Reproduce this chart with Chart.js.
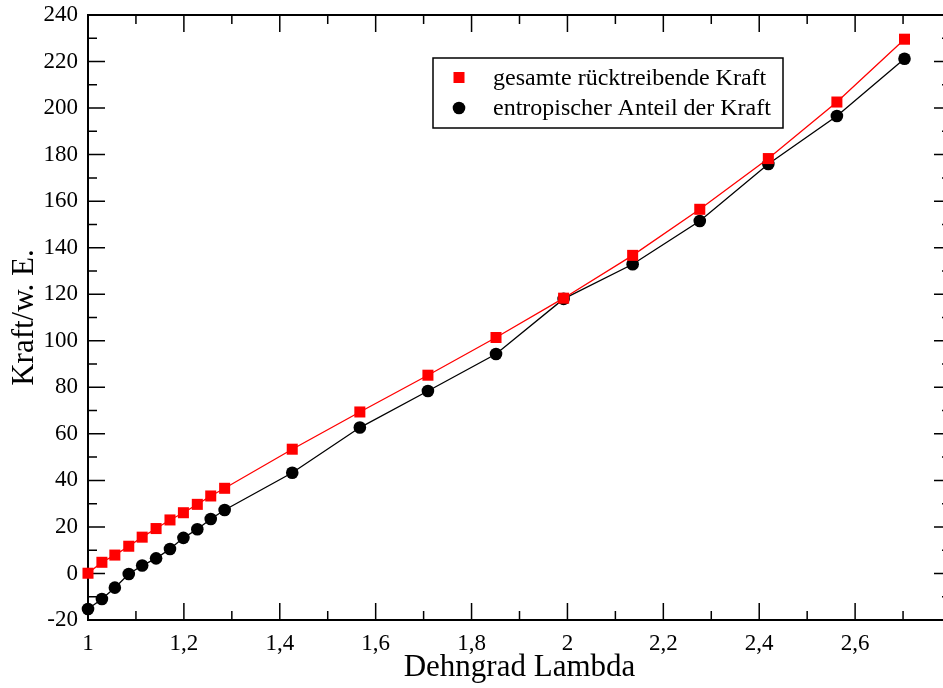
<!DOCTYPE html>
<html>
<head>
<meta charset="utf-8">
<script src="https://cdn.jsdelivr.net/npm/chart.js@4"></script>
<style>
  html, body { margin: 0; padding: 0; overflow: hidden; background: #fff; }
  #wrap { width: 960px; height: 688px; position: relative; }
</style>
</head>
<body>
<div id="wrap"><canvas id="kraftChart"></canvas></div>
<script>
// Dehngrad (Lambda) und Kraftwerte
const lambda     = [1.0, 1.029, 1.056, 1.085, 1.113, 1.142, 1.171, 1.199, 1.228, 1.256, 1.285,
                    1.426, 1.567, 1.709, 1.851, 1.992, 2.136, 2.276, 2.419, 2.562, 2.703];
const gesamt     = [0.1, 4.8, 7.9, 11.7, 15.6, 19.3, 23.0, 26.1, 29.7, 33.3, 36.6,
                    53.4, 69.4, 85.2, 101.4, 118.3, 136.7, 156.5, 178.3, 202.6, 229.6];
const entropisch = [-15.3, -11.0, -6.1, -0.2, 3.4, 6.5, 10.5, 15.3, 19.0, 23.4, 27.3,
                    43.3, 62.7, 78.4, 94.3, 118.0, 132.9, 151.5, 176.0, 196.6, 221.2];
const serienNamen = ['gesamte rücktreibende Kraft', 'entropischer Anteil der Kraft'];

const FONT = 'Liberation Serif';

// Rahmen mit Haupt- und Nebenstrichen nach innen (wie xmgrace)
const rahmen = {
  id: 'rahmen',
  beforeDatasetsDraw(chart) {
    const {ctx, chartArea: a, scales: {x, y}} = chart;
    ctx.save();
    ctx.strokeStyle = '#000';
    ctx.lineWidth = 2;
    ctx.strokeRect(a.left, a.top, a.right - a.left, a.bottom - a.top);
    ctx.lineWidth = 1.5;
    ctx.beginPath();
    for (let i = 0; i <= 18; i++) {
      const px = x.getPixelForValue(1 + i * 0.1);
      const len = i % 2 === 0 ? 17 : 9;
      ctx.moveTo(px, a.bottom); ctx.lineTo(px, a.bottom - len);
      ctx.moveTo(px, a.top);    ctx.lineTo(px, a.top + len);
    }
    for (let v = -20; v <= 240; v += 10) {
      const py = y.getPixelForValue(v);
      const len = v % 20 === 0 ? 17 : 9;
      ctx.moveTo(a.left, py);  ctx.lineTo(a.left + len, py);
      ctx.moveTo(a.right, py); ctx.lineTo(a.right - len, py);
    }
    ctx.stroke();
    ctx.restore();
  },
  afterDraw(chart) {
    // Legende im Kasten
    const {ctx, chartArea: a} = chart;
    const x0 = a.left + 345, y0 = a.top + 43, w = 350, h = 70;
    ctx.save();
    ctx.fillStyle = '#fff';
    ctx.fillRect(x0, y0, w, h);
    ctx.strokeStyle = '#000';
    ctx.lineWidth = 1.5;
    ctx.strokeRect(x0, y0, w, h);
    ctx.font = '24px "' + FONT + '"';
    ctx.textBaseline = 'middle';
    chart.data.datasets.forEach((ds, i) => {
      const cy = y0 + 19.5 + i * 30.5;
      const cx = x0 + 26;
      ctx.fillStyle = ds.backgroundColor;
      if (ds.pointStyle === 'rect') {
        ctx.fillRect(cx - 5.5, cy - 5.5, 11, 11);
      } else {
        ctx.beginPath();
        ctx.arc(cx, cy, 6.3, 0, Math.PI * 2);
        ctx.fill();
      }
      ctx.fillStyle = '#000';
      ctx.fillText(ds.label, x0 + 60, cy + 1);
    });
    ctx.restore();
  }
};

const komma = v => String(+v.toFixed(1)).replace('.', ',');

new Chart(document.getElementById('kraftChart'), {
  type: 'scatter',
  data: {
    datasets: [{
      label: serienNamen[0],
      data: lambda.map((l, i) => ({x: l, y: gesamt[i]})),
      showLine: true,
      borderColor: '#ff0000',
      backgroundColor: '#ff0000',
      borderWidth: 1.3,
      pointStyle: 'rect',
      pointRadius: 7.8,
      pointBorderWidth: 0,
      clip: false
    }, {
      label: serienNamen[1],
      data: lambda.map((l, i) => ({x: l, y: entropisch[i]})),
      showLine: true,
      borderColor: '#000000',
      backgroundColor: '#000000',
      borderWidth: 1.3,
      pointStyle: 'circle',
      pointRadius: 6.3,
      pointBorderWidth: 0,
      clip: false
    }]
  },
  options: {
    responsive: true,
    maintainAspectRatio: false,
    devicePixelRatio: 1,
    animation: false,
    layout: { padding: { top: 15, right: 9, left: 0, bottom: 0 } },
    plugins: { legend: { display: false }, tooltip: { enabled: false } },
    scales: {
      x: {
        type: 'linear',
        min: 1, max: 2.8,
        afterFit: s => { s.height = 68; s.paddingLeft = 0; s.paddingRight = 0; },
        grid: { display: false, drawTicks: false },
        border: { display: false },
        ticks: {
          stepSize: 0.2,
          autoSkip: false,
          maxRotation: 0,
          padding: 10,
          color: '#000',
          font: { family: FONT, size: 23 },
          callback: v => (v > 2.75 ? '' : komma(v))
        },
        title: {
          display: true,
          text: 'Dehngrad Lambda',
          color: '#000',
          font: { family: FONT, size: 31 },
          padding: { top: 0, bottom: 2 }
        }
      },
      y: {
        min: -20, max: 240,
        afterFit: s => { s.width = 88; s.paddingTop = 0; s.paddingBottom = 0; },
        grid: { display: false, drawTicks: false },
        border: { display: false },
        ticks: {
          stepSize: 20,
          padding: 10,
          color: '#000',
          font: { family: FONT, size: 23 }
        },
        title: {
          display: true,
          text: 'Kraft/w. E.',
          color: '#000',
          font: { family: FONT, size: 31 },
          padding: { top: 6, bottom: 0 }
        }
      }
    }
  },
  plugins: [rahmen]
});
</script>
</body>
</html>
